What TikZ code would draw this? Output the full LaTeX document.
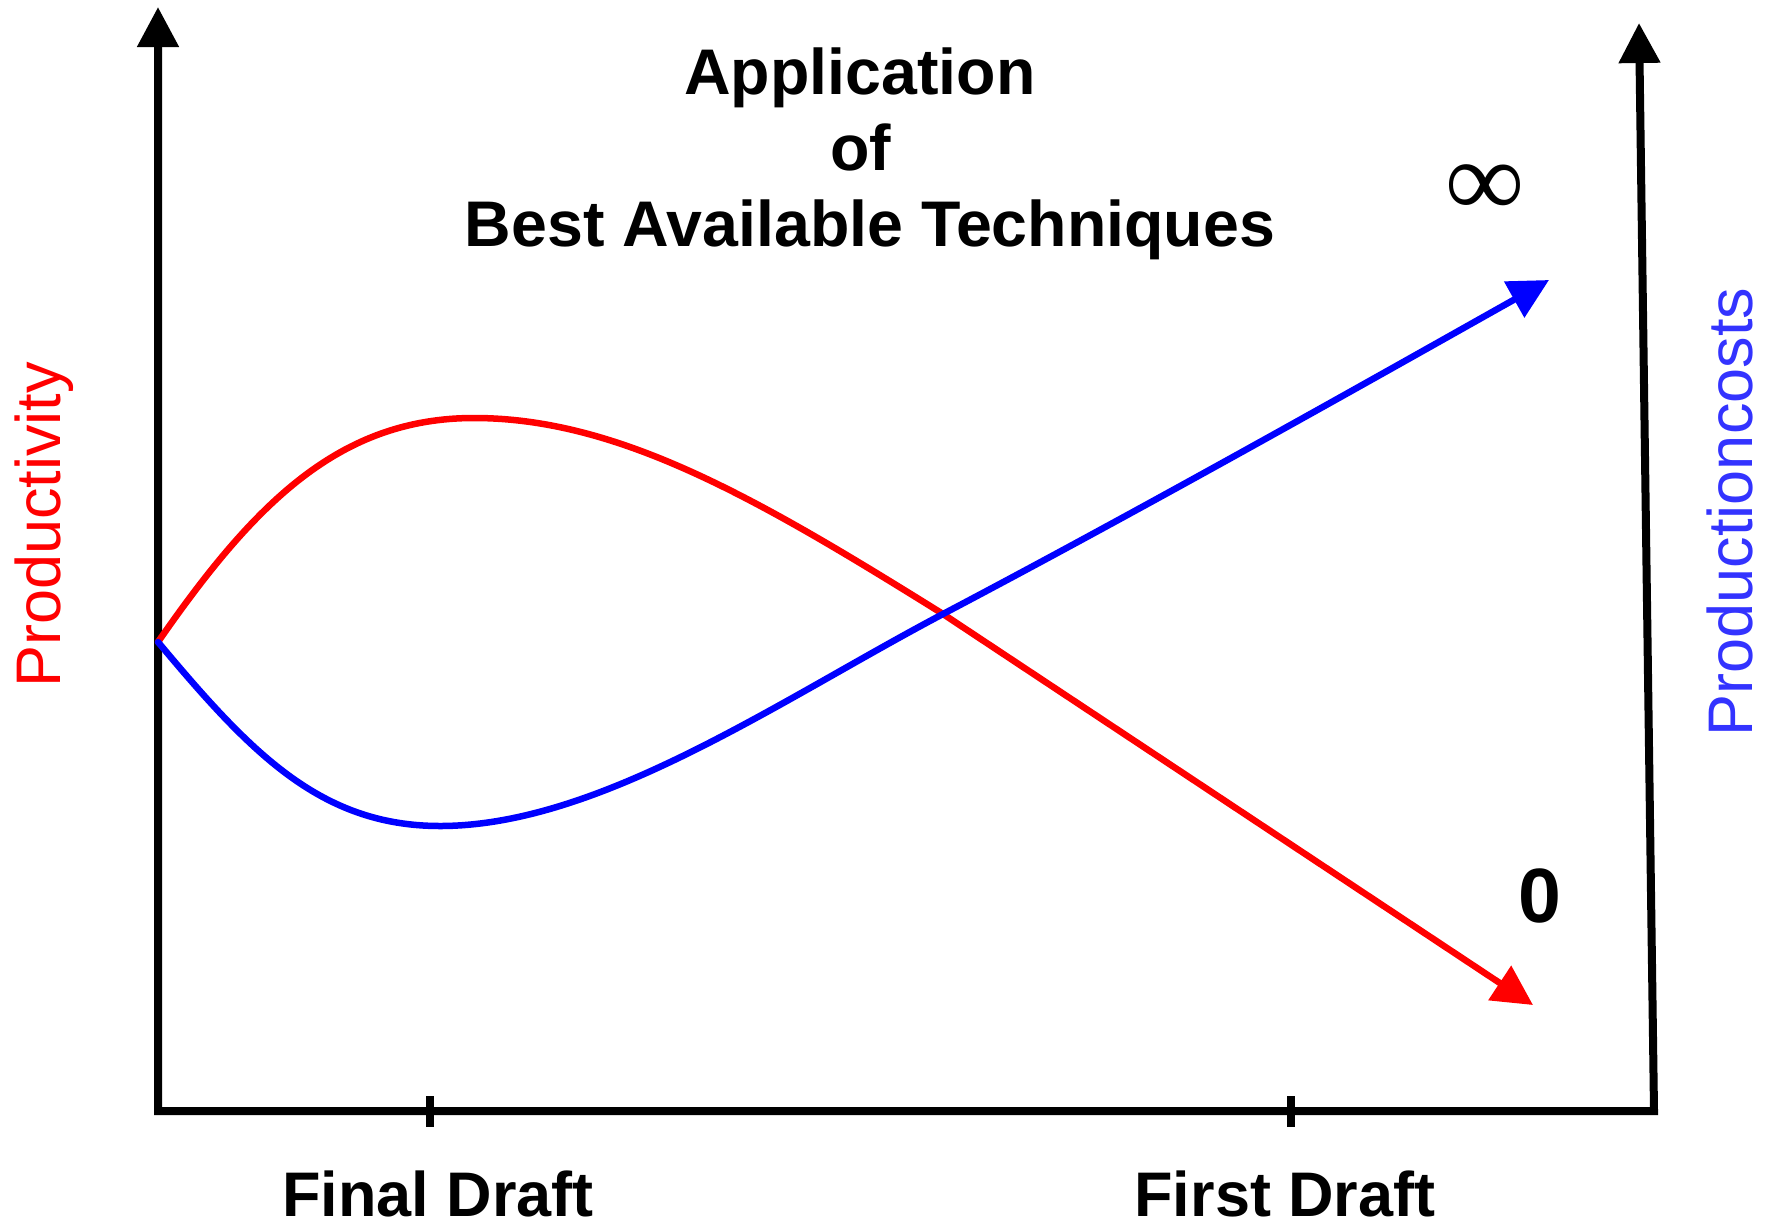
\documentclass[tikz,border=0pt]{standalone}
\usepackage{fontspec}
\setmainfont{Liberation Sans}
\newfontfamily\inffont{Liberation Serif}
\usetikzlibrary{arrows.meta}
\definecolor{pcblue}{RGB}{51,51,255}
\begin{document}
\begin{tikzpicture}[x=1pt,y=-1pt,
  axis/.style={line width=8pt,black,line join=miter},
  tickmark/.style={line width=8pt,black},
  curve/.style={line width=6.5pt,line cap=round},
  tip/.style={-{Triangle[length=40pt,width=40pt]}},
  big/.style={font=\fontsize{63}{76}\selectfont\bfseries,inner sep=0pt},
  title/.style={font=\fontsize{64.5}{76}\selectfont\bfseries,inner sep=0pt},
  side/.style={font=\fontsize{63}{76}\selectfont,inner sep=0pt,rotate=90}]
\useasboundingbox (0,0) rectangle (1771,1227);
% axes
\coordinate (ytop) at (158,7);
\coordinate (origin) at (158,1111);
\coordinate (xend) at (1654,1111);
\coordinate (y2top) at (1639,23);
\draw[axis,{Triangle[length=40pt,width=40pt]}-{Triangle[length=40pt,width=40pt]}]
  (ytop) -- (origin) -- (xend) -- (y2top);
\coordinate (t1a) at (430,1096); \coordinate (t1b) at (430,1127);
\coordinate (t2a) at (1291,1096); \coordinate (t2b) at (1291,1127);
\draw[tickmark] (t1a) -- (t1b);
\draw[tickmark] (t2a) -- (t2b);
% curves
\coordinate (start) at (158,642);
\coordinate (peak) at (474,418);
\coordinate (trough) at (440,826);
\coordinate (cross) at (943,614);
\coordinate (redtip) at (1533,1005);
\coordinate (bluetip) at (1549,280);
\draw[curve,red,tip] (start) .. controls (255,502) and (340,418) .. (peak)
  .. controls (620,418) and (760,500) .. (cross) -- (redtip);
\draw[curve,blue,tip] (start) .. controls (250,752) and (320,826) .. (trough)
  .. controls (600,826) and (780,700) .. (cross)
  .. controls (1150,505) and (1380,375) .. (bluetip);
% texts
\node[title,anchor=base] (t1) at (860,94) {Application};
\node[title,anchor=base] (t2) at (861,170) {of};
\node[title,anchor=base] (t3) at (870,246) {Best Available Techniques};
\node[big,anchor=base] (fin) at (438,1216) {Final Draft};
\node[big,anchor=base] (fir) at (1285,1216) {First Draft};
\node[side,red] (prod) at (44,525) {Productivity};
\node[side,pcblue] (cost) at (1730,512) {Productioncosts};
\node[inner sep=0pt,font=\fontsize{108}{108}\selectfont\inffont\bfseries] (inf) at (1485,191) {∞};
\node[big,font=\fontsize{77}{80}\selectfont\bfseries] (zero) at (1540,896) {0};
\end{tikzpicture}
\end{document}
